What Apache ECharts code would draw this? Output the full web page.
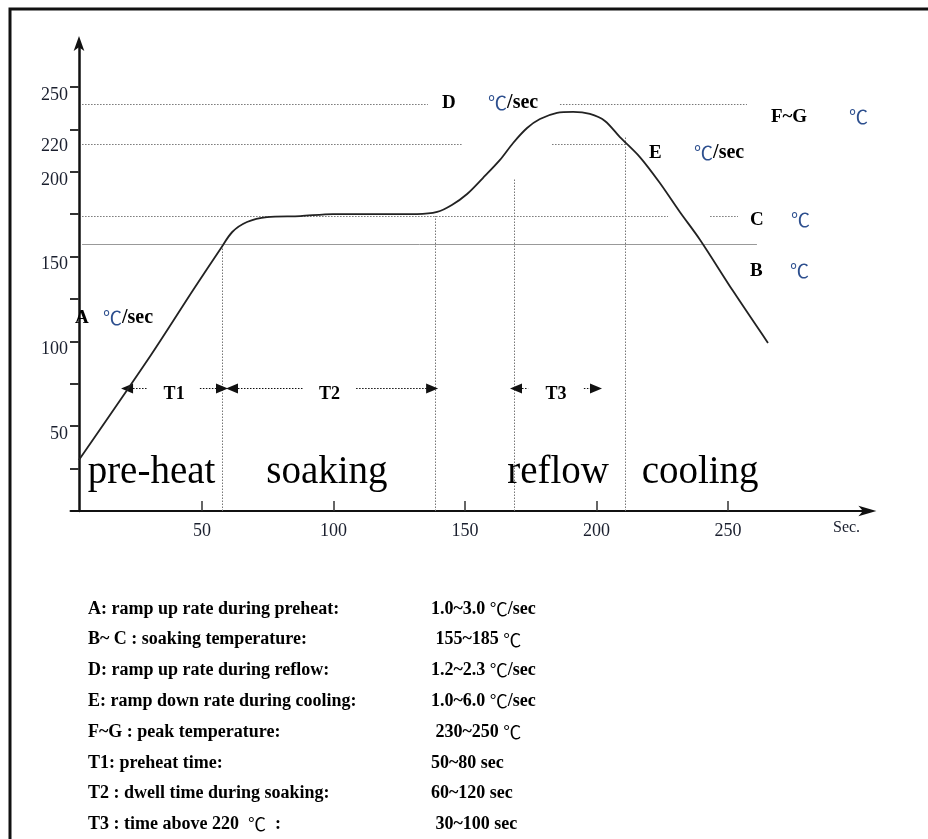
<!DOCTYPE html>
<html><head><meta charset="utf-8">
<script src="https://cdn.jsdelivr.net/npm/echarts@6/dist/echarts.min.js"></script>
<style>html,body{margin:0;padding:0;background:#fff}#c{width:928px;height:839px}</style>
</head><body><div id="c"></div>
<script>
// ---- data ----
const profileTime = [3.2, 30.6, 47, 57, 61.5, 67.1, 74.7, 87.3, 99.8, 131.7, 139.4, 145, 150.8, 156.8, 163.3, 168.3, 173.6, 178.5, 185, 191.1, 197.5, 203.2, 208.9, 216.5, 224.1, 231.7, 239.4, 252, 265.2];
const profileTemp = [30.1, 92, 131.2, 154.5, 164.5, 170.4, 173.3, 173.9, 175.1, 175.1, 176.3, 180.4, 186.9, 196.3, 207, 217, 225.8, 231.1, 234.7, 235.3, 234.1, 230, 220.5, 208.7, 193.4, 176.3, 159.8, 129.5, 99.1];
const xTickValues = [50, 100, 150, 200, 250];
const yTickValues = [25, 50, 75, 100, 125, 150, 175, 200, 225, 250];
const yLabelValues = [50, 100, 150, 200, 220, 250];
// dotted horizontal guides: [level, fromTime, toTime]
const dottedGuides = [[240, 4.4, 135.9], [240, 186.1, 257.2], [216.4, 4.4, 148.9], [216.4, 183.1, 211.6], [173.9, 4.4, 227.2], [173.9, 243.2, 253.8]];
// solid guide (B level): [level, fromTime, toTime]
const solidGuides = [[157.4, 4.4, 261]];
// vertical dotted guides: [time, topTemp]
const verticalGuides = [[57.6, 157.4], [138.6, 173.9], [168.6, 196.3], [210.8, 220.5]];
// time spans
const spanNames = ['T1', 'T2', 'T3'];
const spanFrom = [21.5, 61.4, 169.4];
const spanTo = [57.6, 137.5, 199.8];
const spanGapFrom = [29.1, 88.4, 174];
const spanGapTo = [49.2, 108.6, 195.2];
const spanMid = [39.4, 98.5, 184.6];
const spanLevel = 72.2;
const spanLabelLevel = 69;
// letter annotations
const annoNames = ['D', 'F~G', 'E', 'C', 'B', 'A'];
const annoUnits = ['℃/sec', '℃', '℃/sec', '℃', '℃', '℃/sec'];
const annoTime = [141.3, 266.3, 220, 258.4, 258.4, 1.7];
const annoTemp = [240.6, 232.3, 211.1, 171.6, 141.5, 114];
// phase names
const phaseNames = ['pre-heat', 'soaking', 'reflow', 'cooling'];
const phaseTime = [30.8, 97.5, 185.4, 239.4];
const phaseTemp = 22.4;
// specification table
const specLabels = ['A: ramp up rate during preheat:', 'B~ C : soaking temperature:', 'D: ramp up rate during reflow:', 'E: ramp down rate during cooling:', 'F~G : peak temperature:', 'T1: preheat time:', 'T2 : dwell time during soaking:', 'T3 : time above 220  ℃  :'];
const specValues = ['1.0~3.0 ℃/sec', ' 155~185 ℃', '1.2~2.3 ℃/sec', '1.0~6.0 ℃/sec', ' 230~250 ℃', '50~80 sec', '60~120 sec', ' 30~100 sec'];
const xAxisName = 'Sec.';

// ---- styles ----
const SERIF = 'Liberation Serif';
const DEG = 'Noto Sans CJK SC';
const degColor = '#2d4f8e';
const ink = '#000';
const annoLetterWidth = [46, 78, 45, 41, 40, 28];

const chart = echarts.init(document.getElementById('c'), null, {renderer: 'canvas'});

const dotStyle = {type: [1.5, 1.5], color: '#777', width: 1};
const guideLines = [];
dottedGuides.forEach(g => guideLines.push([
  {coord: [g[1], g[0]], lineStyle: dotStyle},
  {coord: [g[2], g[0]]}
]));
solidGuides.forEach(g => guideLines.push([
  {coord: [g[1], g[0]], lineStyle: {type: 'solid', color: '#999', width: 1}},
  {coord: [g[2], g[0]]}
]));
verticalGuides.forEach(g => guideLines.push([
  {coord: [g[0], 0], lineStyle: dotStyle},
  {coord: [g[0], g[1]]}
]));
const spanStyle = {type: [1.5, 1.5], color: '#111', width: 1};
spanNames.forEach((n, i) => {
  guideLines.push([
    {coord: [spanFrom[i], spanLevel], symbol: 'triangle', symbolSize: [10, 12], lineStyle: spanStyle},
    {coord: [spanGapFrom[i], spanLevel], symbol: 'none'}
  ]);
  guideLines.push([
    {coord: [spanGapTo[i], spanLevel], symbol: 'none', lineStyle: spanStyle},
    {coord: [spanTo[i], spanLevel], symbol: 'triangle', symbolSize: [10, 12]}
  ]);
});

const annoData = annoNames.map((n, i) => ({
  value: [annoTime[i], annoTemp[i]],
  label: {
    show: true, position: 'right', distance: 0,
    formatter: '{n|' + n + '}{c|℃}' + (annoUnits[i].length > 1 ? '{u|/sec}' : ''),
    rich: {
      n: {fontFamily: SERIF, fontWeight: 'bold', fontSize: 19, color: ink, width: annoLetterWidth[i]},
      c: {fontFamily: DEG, fontWeight: 'normal', fontSize: 19, color: degColor},
      u: {fontFamily: SERIF, fontWeight: 'bold', fontSize: 20, color: ink}
    }
  }
}));

const phaseData = phaseNames.map((n, i) => ({value: [phaseTime[i], phaseTemp], name: n}));
const spanLabelData = spanNames.map((n, i) => ({value: [spanMid[i], spanLabelLevel], name: n}));

const specGraphics = [];
specLabels.forEach((s, i) => {
  specGraphics.push({
    type: 'text', left: 88, top: 600 + i * 30.8,
    style: {
      text: s.replace('℃', '{c|℃}'), fontFamily: SERIF, fontWeight: 'bold', fontSize: 18, fill: ink,
      rich: {c: {fontFamily: DEG, fontWeight: 'normal', fontSize: 18, color: degColor}}
    }
  });
  specGraphics.push({
    type: 'text', left: 431, top: 600 + i * 30.8,
    style: {
      text: specValues[i].replace('℃', '{c|℃}'), fontFamily: SERIF, fontWeight: 'bold', fontSize: 18, fill: ink,
      rich: {c: {fontFamily: DEG, fontWeight: 'normal', fontSize: 18, color: degColor}}
    }
  });
});

const labelSeriesBase = {type: 'scatter', symbol: 'circle', symbolSize: 0, itemStyle: {color: ink, opacity: 1}, silent: true, z: 6, emphasis: {disabled: true}};

chart.setOption({
  animation: false,
  backgroundColor: '#fff',
  grid: {left: 70.5, right: 60.6, top: 42.9, bottom: 328, containLabel: false},
  xAxis: {
    type: 'value', min: 0, max: 303, interval: 50,
    splitLine: {show: false},
    axisLine: {show: true, onZero: false, symbol: ['none', 'arrow'], symbolSize: [8, 18], symbolOffset: [0, 9], lineStyle: {color: '#111', width: 2}},
    axisTick: {show: true, inside: true, length: 10, customValues: xTickValues, lineStyle: {color: '#333', width: 1.5}},
    axisLabel: {show: true, customValues: xTickValues, margin: 11, fontFamily: SERIF, fontSize: 18, color: '#1a1f2e'}
  },
  yAxis: {
    type: 'value', min: 0, max: 276, interval: 25, offset: -8.5,
    splitLine: {show: false},
    axisLine: {show: true, onZero: false, symbol: ['none', 'arrow'], symbolSize: [8, 15], symbolOffset: [0, 7], lineStyle: {color: '#111', width: 2.5}},
    axisTick: {show: true, inside: false, length: 9, customValues: yTickValues, lineStyle: {color: '#333', width: 2}},
    axisLabel: {show: true, customValues: yLabelValues, margin: 11, fontFamily: SERIF, fontSize: 18, color: '#1a1f2e', verticalAlign: 'top', lineHeight: 16}
  },
  graphic: [
    {type: 'rect', shape: {x: 10, y: 9, width: 1000, height: 1000}, style: {fill: 'none', stroke: '#111', lineWidth: 3}, silent: true},
    {type: 'text', left: 833, top: 520, style: {text: xAxisName, fontFamily: SERIF, fontSize: 16, fill: '#1a1f2e'}}
  ].concat(specGraphics),
  series: [
    {
      type: 'line', name: 'profile', data: profileTime.map((t, i) => [t, profileTemp[i]]),
      smooth: 0.3, showSymbol: false, symbol: 'none',
      lineStyle: {color: '#222', width: 1.8}, z: 5,
      markLine: {silent: true, symbol: 'none', label: {show: false}, animation: false, data: guideLines}
    },
    Object.assign({}, labelSeriesBase, {name: 'annotations', data: annoData}),
    Object.assign({}, labelSeriesBase, {
      name: 'phases', data: phaseData,
      label: {show: true, position: 'inside', formatter: '{b}', fontFamily: SERIF, fontSize: 39, color: ink, textBorderWidth: 0}
    }),
    Object.assign({}, labelSeriesBase, {
      name: 'spans', data: spanLabelData,
      label: {show: true, position: 'inside', formatter: '{b}', fontFamily: SERIF, fontWeight: 'bold', fontSize: 18, color: ink, textBorderWidth: 0}
    })
  ]
});
</script></body></html>
